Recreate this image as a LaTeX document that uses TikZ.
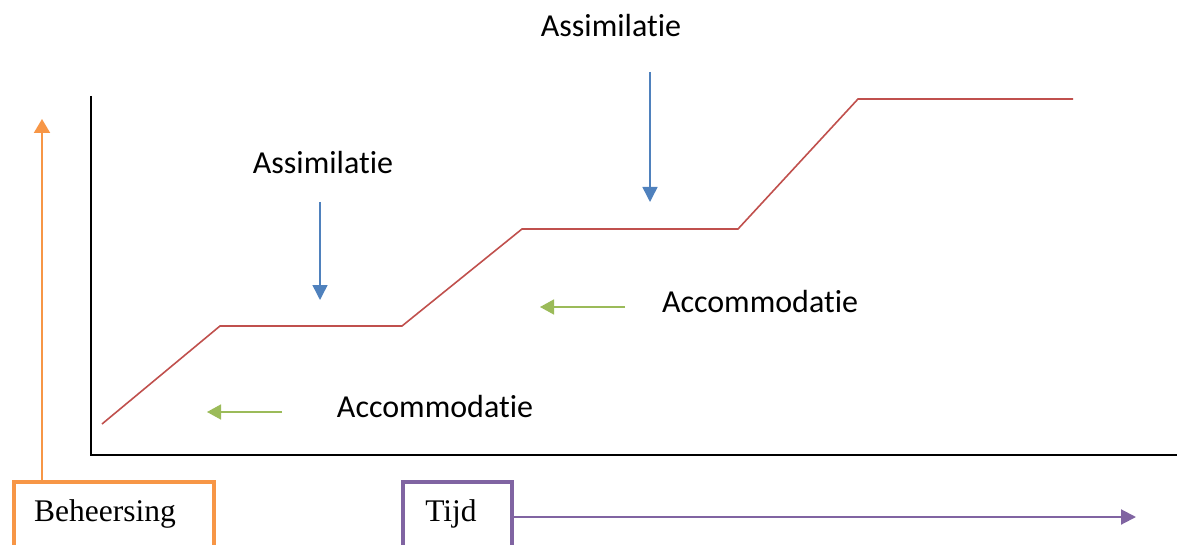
\documentclass[tikz,border=0pt]{standalone}
\usepackage{fontspec}
\setmainfont{Liberation Serif}
\newfontfamily\calibri[Ligatures = NoCommon]{Carlito}
\usepackage{tikz}
\usetikzlibrary{arrows.meta}

\definecolor{redline}{HTML}{C0504D}
\definecolor{blueline}{HTML}{4F81BD}
\definecolor{greenline}{HTML}{9BBB59}
\definecolor{orangeline}{HTML}{F79646}
\definecolor{purpleline}{HTML}{8064A2}

\begin{document}
\begin{tikzpicture}[x = 1pt, y = -1pt,
    label/.style = {font = \calibri\fontsize{32}{36}\selectfont, inner sep = 0pt},
    axisbox/.style = {line width = 4pt, fill = white, minimum height = 72pt, anchor = north west},
    boxtext/.style = {font = \fontsize{31.5}{36}\selectfont, inner sep = 0pt},
    assim/.style = {blueline, line width = 1.5pt, -{Triangle[length = 15pt, width = 15pt]}},
    accom/.style = {greenline, line width = 1.5pt, -{Triangle[length = 14pt, width = 15pt]}}]
      \useasboundingbox (0,0) rectangle (1177,545);
      % axes
      \coordinate (o) at (91,455);
      \coordinate (ytop) at (91,96);
      \coordinate (xend) at (1177,455);
      \draw[line width = 2pt] (ytop) -- (o) -- (xend);
      % learning curve
      \coordinate (p0) at (102,424);
      \coordinate (p1) at (220,326);
      \coordinate (p2) at (402,326);
      \coordinate (p3) at (522,229);
      \coordinate (p4) at (738,229);
      \coordinate (p5) at (858,99);
      \coordinate (p6) at (1073,99);
      \draw[redline, line width = 1.6pt] (p0) -- (p1) -- (p2) -- (p3) -- (p4) -- (p5) -- (p6);
      % labels
      \node[label] (as1) at (323,163) {Assimilatie};
      \node[label] (as2) at (611,26) {Assimilatie};
      \node[label] (ac1) at (435,407) {Accommodatie};
      \node[label] (ac2) at (760,302) {Accommodatie};
      \coordinate (as1s) at (320,202);
      \coordinate (as1e) at (320,300);
      \coordinate (as2s) at (650,72);
      \coordinate (as2e) at (650,202);
      \coordinate (ac1s) at (282,412);
      \coordinate (ac1e) at (207,412);
      \coordinate (ac2s) at (625,307);
      \coordinate (ac2e) at (540,307);
      \draw[assim] (as1s) -- (as1e);
      \draw[assim] (as2s) -- (as2e);
      \draw[accom] (ac1s) -- (ac1e);
      \draw[accom] (ac2s) -- (ac2e);
      % axis boxes
      \coordinate (bs) at (42,480);
      \coordinate (be) at (42,119);
      \draw[orangeline, line width = 2pt, -{Triangle[length = 14pt, width = 16pt]}] (bs) -- (be);
      \node[axisbox, draw = orangeline, minimum width = 200pt] (beh) at (12,480) {};
      \node[boxtext] (behtxt) at (105,514) {Beheersing};
      \node[axisbox, draw = purpleline, minimum width = 109pt] (tijd) at (401,480) {};
      \node[boxtext] (tijdtxt) at (451,514) {Tijd};
      \coordinate (tijde) at (1136,517);
      \draw[purpleline, line width = 2pt, -{Triangle[length = 15pt, width = 15pt]}] (tijd.east |- tijde) -- (tijde);
\end{tikzpicture}
\end{document}
